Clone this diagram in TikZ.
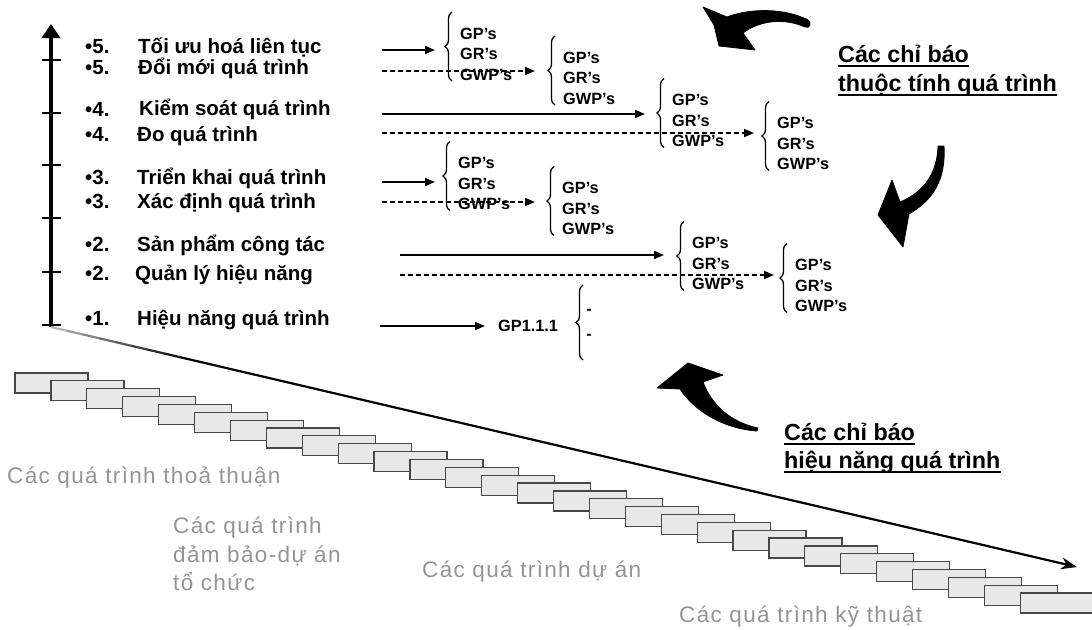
\documentclass[tikz,border=0pt]{standalone}
\usepackage{fontspec}
\setmainfont{Liberation Sans}
\newfontfamily\spacedsans[LetterSpace=6]{Liberation Sans}
\usetikzlibrary{arrows.meta,decorations.pathreplacing,calc}

\tikzset{
  lbl/.style={anchor=base west, inner sep=0pt, font=\fontsize{20.5}{24}\selectfont\bfseries},
  gp/.style={anchor=base west, inner sep=0pt, font=\fontsize{16.3}{18}\selectfont\bfseries},
  faint/.style={anchor=base west, inner sep=0pt, text=black!42, font=\spacedsans\fontsize{22.5}{28}\selectfont},
  headline/.style={anchor=base west, inner sep=0pt, font=\fontsize{23.3}{28}\selectfont\bfseries},
  link/.style={line width=1.8pt, -{Triangle[length=10pt,width=8pt]}},
  dlink/.style={link, dash pattern=on 5pt off 3pt},
  brc/.style={decorate, decoration={brace, amplitude=7pt}, line width=1.3pt},
  fat/.style={fill=black, draw=black, line width=0.8pt, line join=round},
  stair/.style={fill=black!9, draw=black!72, line width=1.2pt},
  uline/.style={line width=1.3pt},
}

% three stacked indicator labels with a left brace
\newcommand\gpgroup[3]{%
  \node[gp] (#1-p) at (#2,#3) {GP’s};
  \node[gp] (#1-r) at (#2,#3+20.5) {GR’s};
  \node[gp] (#1-w) at (#2,#3+41) {GWP’s};
  \draw[brc] (#2-8,#3+42) -- (#2-8,#3-27);
}

\begin{document}
\begin{tikzpicture}[x=1pt,y=-1pt]
\useasboundingbox (0,0) rectangle (1092,629);

% staircase of process boxes
\foreach \i in {0,...,28} {
  \draw[stair] ({15+35.9*\i},{373+7.86*\i}) rectangle ++(73,20);
}

% maturity axis
\coordinate (axb) at (51,327);
\coordinate (axt) at (51,24);
\draw[line width=3.5pt, -{Triangle[length=14pt,width=18pt]}] (axb) -- (axt);
\foreach \y in {60,113,165,218,272,325} {
  \draw[line width=2.5pt] (42,\y) -- (61,\y);
}

% performance direction (fading in from the axis foot)
\coordinate (dtip) at (1077,567);
\foreach \i in {0,...,7} {
  \pgfmathtruncatemacro\shade{30+9*\i}
  \draw[line width=2.2pt, draw=black!\shade] ($(axb)!{\i/64}!(dtip)$) -- ($(axb)!{(\i+1)/64}!(dtip)$);
}
\draw[line width=2.2pt, -{Stealth[length=16pt,width=12pt]}] ($(axb)!0.125!(dtip)$) -- (dtip);

% level labels
\node[lbl] (b5a) at (85,53)  {•5.}; \node[lbl] (l5a) at (138,53)  {Tối ưu hoá liên tục};
\node[lbl] (b5b) at (85,74)  {•5.}; \node[lbl] (l5b) at (138,74)  {Đổi mới quá trình};
\node[lbl] (b4a) at (85,116) {•4.}; \node[lbl] (l4a) at (139,115) {Kiểm soát quá trình};
\node[lbl] (b4b) at (85,141) {•4.}; \node[lbl] (l4b) at (137,141) {Đo quá trình};
\node[lbl] (b3a) at (85,184) {•3.}; \node[lbl] (l3a) at (137,184) {Triển khai quá trình};
\node[lbl] (b3b) at (85,208) {•3.}; \node[lbl] (l3b) at (137,208) {Xác định quá trình};
\node[lbl] (b2a) at (85,251) {•2.}; \node[lbl] (l2a) at (137,251) {Sản phẩm công tác};
\node[lbl] (b2b) at (85,280) {•2.}; \node[lbl] (l2b) at (135,280) {Quản lý hiệu năng};
\node[lbl] (b1)  at (85,325) {•1.}; \node[lbl] (l1)  at (137,325) {Hiệu năng quá trình};

% indicator groups
\gpgroup{g5a}{460}{39}
\gpgroup{g5b}{563}{63}
\gpgroup{g4a}{672}{105.5}
\gpgroup{g4b}{777}{128.5}
\gpgroup{g3a}{458}{168.5}
\gpgroup{g3b}{562}{193.5}
\gpgroup{g2a}{692}{248.5}
\gpgroup{g2b}{795}{270.5}

% level 1 practice
\node[gp] (gp111) at (498,331.5) {GP1.1.1};
\draw[brc] (583,360) -- (583,285);
\node[gp, anchor=center] (d1) at (589,312) {-};
\node[gp, anchor=center] (d2) at (589,337) {-};

% connectors from the labels to the indicator groups
\coordinate (s5a) at (382,50);  \coordinate (e5a) at (435,50);
\coordinate (s5b) at (382,71);  \coordinate (e5b) at (535,71);
\coordinate (s4a) at (382,114); \coordinate (e4a) at (645,114);
\coordinate (s4b) at (382,133); \coordinate (e4b) at (754,133);
\coordinate (s3a) at (382,182); \coordinate (e3a) at (435,182);
\coordinate (s3b) at (382,202); \coordinate (e3b) at (535,202);
\coordinate (s2a) at (400,255); \coordinate (e2a) at (664,255);
\coordinate (s2b) at (400,275); \coordinate (e2b) at (774,275);
\coordinate (s1)  at (380,326); \coordinate (e1)  at (485,326);
\draw[link]  (s5a) -- (e5a);
\draw[dlink] (s5b) -- (e5b);
\draw[link]  (s4a) -- (e4a);
\draw[dlink] (s4b) -- (e4b);
\draw[link]  (s3a) -- (e3a);
\draw[dlink] (s3b) -- (e3b);
\draw[link]  (s2a) -- (e2a);
\draw[dlink] (s2b) -- (e2b);
\draw[link]  (s1)  -- (e1);

% curved block arrows
\path[fat] (703,7) -- (727,17) .. controls (750,8) and (785,8) .. (808,20)
  .. controls (812,23) and (810,29) .. (805,27)
  .. controls (785,18) and (760,20) .. (743,33)
  -- (755,50) -- (719,46) -- (714,25) -- cycle;
\path[fat] (938,146) -- (944,146) .. controls (946,180) and (933,200) .. (909,214)
  -- (903,247) -- (878,215) -- (892,180) -- (900,202)
  .. controls (917,195) and (937,180) .. (938,146) -- cycle;
\path[fat] (688,363) -- (723,375) -- (703,382)
  .. controls (712,405) and (730,422) .. (758,428)
  -- (757,431) .. controls (725,429) and (695,412) .. (680,389)
  -- (657,388) -- cycle;

% legends
\node[headline] (ta1) at (838,62) {Các chỉ báo};
\node[headline] (ta2) at (838,91) {thuộc tính quá trình};
\node[headline] (tb1) at (784,440) {Các chỉ báo};
\node[headline] (tb2) at (784,468) {hiệu năng quá trình};
\foreach \t in {ta1,ta2,tb1,tb2} {
  \draw[uline] ([yshift=-4pt]\t.base west) -- ([yshift=-4pt]\t.base east);
}

% process categories
\node[faint] (c1) at (7,483) {Các quá trình thoả thuận};
\node[faint] (c2a) at (173,533) {Các quá trình};
\node[faint] (c2b) at (173,562) {đảm bảo-dự án};
\node[faint] (c2c) at (173,590) {tổ chức};
\node[faint] (c3) at (422,577) {Các quá trình dự án};
\node[faint] (c4) at (679,622) {Các quá trình kỹ thuật};
\end{tikzpicture}
\end{document}
